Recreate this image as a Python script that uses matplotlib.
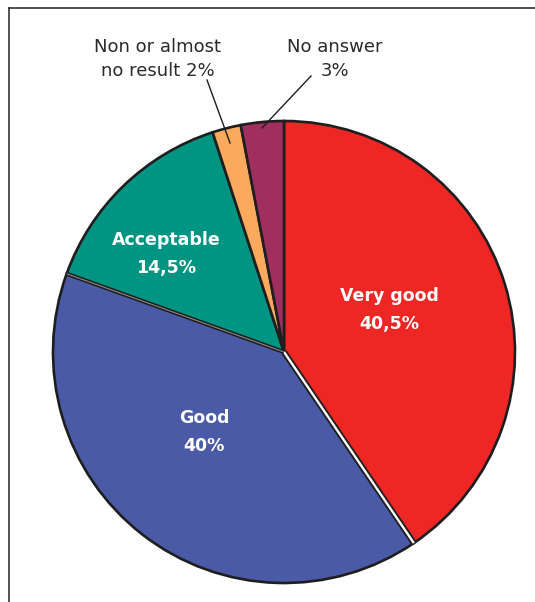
import math
import matplotlib
matplotlib.use("Agg")
import matplotlib.pyplot as plt

# data
labels = ["Very good", "Good", "Acceptable", "Non or almost\nno result", "No answer"]
values = [40.5, 40, 14.5, 2, 3]
value_text = ["40,5%", "40%", "14,5%", "2%", "3%"]
colors = ["#EE2725", "#4A5AA6", "#009482", "#FBA95C", "#A02F60"]

W, H = 535, 602
fig = plt.figure(figsize=(W / 100, H / 100), dpi=100)
ax = fig.add_axes([0, 0, 1, 1])

cx, cy, r = 284, H - 352, 231

wedges, _ = ax.pie(values, colors=colors, startangle=90, counterclock=False,
                   center=(cx, cy), radius=r, frame=True,
                   wedgeprops=dict(edgecolor="#1e1e1e", linewidth=1.9))
ax.set_xlim(0, W)
ax.set_ylim(0, H)
ax.set_aspect("equal")
ax.axis("off")

# white gap between "Very good" and "Good"
ang = math.radians(90 - values[0] / 100 * 360)
x2, y2 = cx + r * math.cos(ang), cy + r * math.sin(ang)
ax.plot([cx, x2], [cy, y2], color="#1e1e1e", lw=4.4, solid_capstyle="butt")
ax.plot([cx, x2], [cy, y2], color="white", lw=1.7, solid_capstyle="butt")

# double line between "Good" and "Acceptable"
ang = math.radians(90 - (values[0] + values[1]) / 100 * 360)
x2, y2 = cx + r * math.cos(ang), cy + r * math.sin(ang)
ax.plot([cx, x2], [cy, y2], color="#1e1e1e", lw=3.0, solid_capstyle="butt")
ax.plot([cx, x2], [cy, y2], color="#888888", lw=0.8, solid_capstyle="butt")

# labels inside the big slices
inside = [(389, 310), (204, 432), (166, 254)]
for i, (x, y) in enumerate(inside):
    ax.text(x, H - y, labels[i] + "\n" + value_text[i], color="white",
            fontsize=12.5, fontweight="bold", ha="center", va="center",
            linespacing=1.7)

# labels outside the small slices with leader lines
ax.text(158, H - 59, labels[3] + " " + value_text[3], color="#2a2a2a",
        fontsize=13, ha="center", va="center", linespacing=1.45)
ax.plot([207, 230], [H - 80, H - 143], color="#1e1e1e", lw=1.0)

ax.text(335, H - 59, labels[4] + "\n" + value_text[4], color="#2a2a2a",
        fontsize=13, ha="center", va="center", linespacing=1.45)
ax.plot([311, 262], [H - 76, H - 128], color="#1e1e1e", lw=1.0)

# frame (left and top only)
ax.plot([9, 9], [0, H - 8], color="#333333", lw=1.2)
ax.plot([9, W], [H - 8, H - 8], color="#333333", lw=1.2)

fig.savefig("out.png", dpi=100)
